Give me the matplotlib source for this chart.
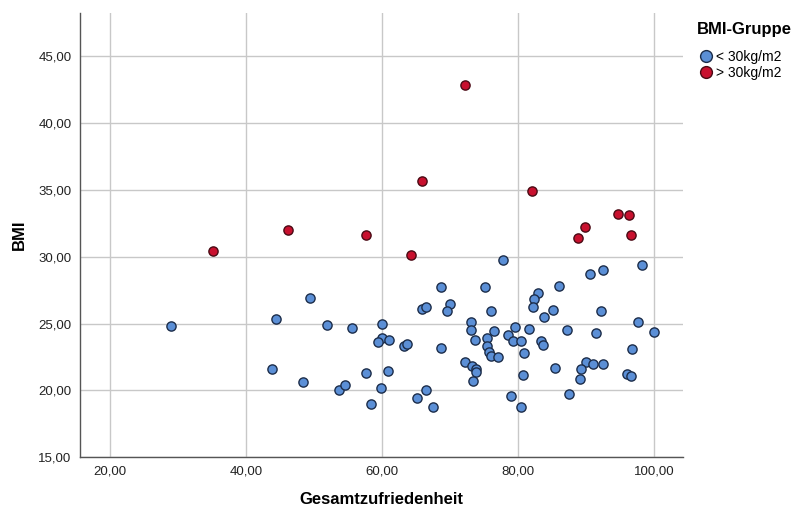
import matplotlib.pyplot as plt
from matplotlib.lines import Line2D
from matplotlib.ticker import FuncFormatter

plt.rcParams["font.family"] = ["Liberation Sans", "DejaVu Sans"]

# Gesamtzufriedenheit / BMI, BMI < 30
low_x = [28.96, 44.44, 43.80, 49.49, 51.94, 55.66, 60.02, 60.07, 59.39, 61.10,
         63.25, 63.74, 65.94, 66.53, 48.46, 53.66, 54.63, 57.67, 60.86, 59.83,
         58.45, 65.12, 66.53, 67.56, 77.76, 68.65, 75.11, 69.97, 69.62, 76.08,
         73.10, 73.15, 76.53, 73.69, 75.41, 75.41, 75.79, 76.00, 77.03, 72.22,
         73.20, 73.84, 73.84, 73.44, 68.69, 79.61, 78.58, 79.27, 80.45, 81.58,
         80.94, 80.79, 78.98, 80.50, 82.95, 82.30, 82.26, 83.88, 83.35, 83.69,
         98.19, 92.55, 90.64, 86.04, 85.11, 92.16, 97.65, 100.00, 87.25, 91.47,
         96.81, 90.00, 91.08, 92.50, 89.27, 89.08, 85.45, 96.07, 96.66, 87.50]
low_y = [24.82, 25.37, 21.63, 26.94, 24.92, 24.65, 25.00, 23.95, 23.60, 23.75,
         23.32, 23.45, 26.09, 26.22, 20.65, 20.03, 20.38, 21.28, 21.48, 20.18,
         18.99, 19.46, 20.06, 18.74, 29.73, 27.74, 27.74, 26.49, 25.94, 25.94,
         25.14, 24.54, 24.42, 23.80, 23.92, 23.35, 22.88, 22.58, 22.48, 22.15,
         21.85, 21.60, 21.38, 20.68, 23.15, 24.77, 24.15, 23.70, 23.72, 24.60,
         22.82, 21.16, 19.58, 18.78, 27.27, 26.84, 26.22, 25.52, 23.72, 23.42,
         29.36, 29.03, 28.71, 27.81, 26.02, 25.94, 25.09, 24.37, 24.52, 24.32,
         23.12, 22.15, 21.96, 21.96, 21.60, 20.88, 21.70, 21.23, 21.08, 19.71]

# BMI > 30
high_x = [35.23, 46.20, 57.60, 72.17, 65.90, 82.10, 64.24, 94.70, 96.37, 89.86, 88.78, 96.66]
high_y = [30.45, 32.02, 31.60, 42.85, 35.64, 34.92, 30.11, 33.17, 33.10, 32.25, 31.43, 31.63]

x_ticks = [20, 40, 60, 80, 100]
y_ticks = [15, 20, 25, 30, 35, 40, 45]

BLUE = "#5b8fd6"
RED = "#c8102e"

fig = plt.figure(figsize=(7.94, 5.14), dpi=100)
ax = fig.add_axes([0.1008, 0.1103, 0.7594, 0.8650])

ax.scatter(low_x, low_y, s=44, color=BLUE, edgecolor="#1c2d4a", linewidth=1.0, zorder=3)
ax.scatter(high_x, high_y, s=44, color=RED, edgecolor="#4a0a14", linewidth=1.0, zorder=3)

ax.set_xlim(15.63, 104.26)
ax.set_ylim(15, 48.25)
ax.set_xticks(x_ticks)
ax.set_yticks(y_ticks)
fmt = FuncFormatter(lambda v, _: f"{v:.2f}".replace(".", ","))
ax.xaxis.set_major_formatter(fmt)
ax.yaxis.set_major_formatter(fmt)
ax.tick_params(length=0, labelsize=9.5, colors="#222222", pad=6)
ax.grid(True, color="#c8c8c8", linewidth=1.0, zorder=0)

for s in ["top", "right"]:
    ax.spines[s].set_visible(False)
for s in ["left", "bottom"]:
    ax.spines[s].set_color("#555555")
    ax.spines[s].set_linewidth(1.0)

ax.set_xlabel("Gesamtzufriedenheit", fontsize=12, fontweight="bold", labelpad=10)
ax.set_ylabel("BMI", fontsize=12, fontweight="bold", labelpad=8)

handles = [
    Line2D([], [], marker="o", linestyle="", markersize=8.5, markerfacecolor=BLUE,
           markeredgecolor="#1c2d4a", label="< 30kg/m2"),
    Line2D([], [], marker="o", linestyle="", markersize=8.5, markerfacecolor=RED,
           markeredgecolor="#4a0a14", label="> 30kg/m2"),
]
fig.text(0.878, 0.942, "BMI-Gruppe", fontsize=12, fontweight="bold", va="center")
fig.legend(handles=handles, loc="upper left", bbox_to_anchor=(0.872, 0.914),
           frameon=False, fontsize=10, handletextpad=0.1, labelspacing=0.15,
           borderaxespad=0, handlelength=1.2)

fig.savefig("out.png", dpi=100)
